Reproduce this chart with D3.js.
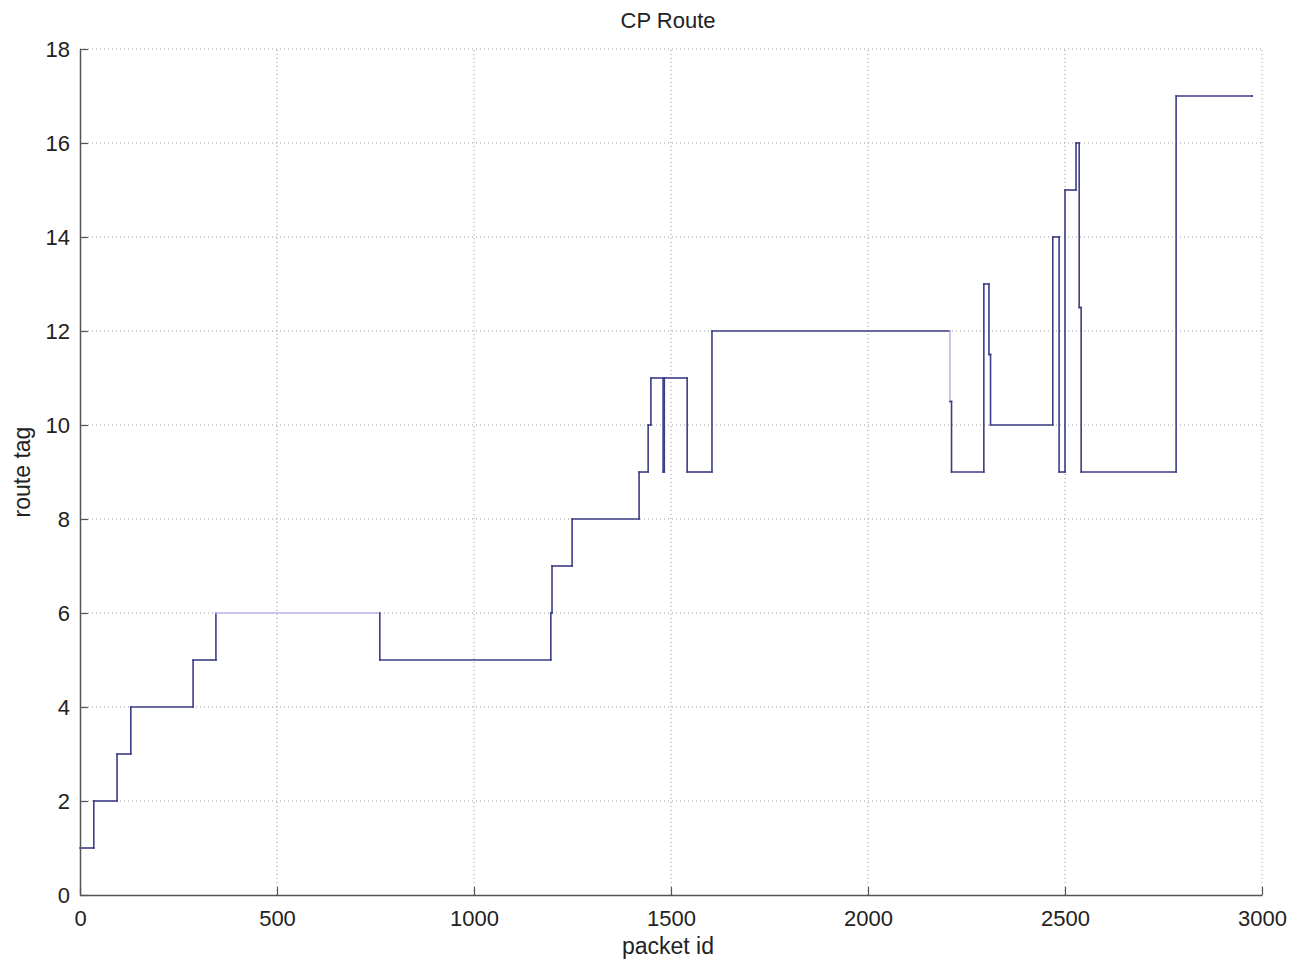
<!DOCTYPE html>
<html><head><meta charset="utf-8">
<script src="https://cdn.jsdelivr.net/npm/d3@7"></script>
<style>body{margin:0;background:#fff}svg{display:block}</style>
</head><body>
<script>
// Data: step points (packet id where the route tag changes, new route tag)
const packetIds = [0, 35, 94, 129, 287, 345, 761, 1195, 1198, 1249, 1419, 1442, 1449, 1480, 1483, 1541, 1604, 2208, 2212, 2294, 2307, 2311, 2469, 2485, 2500, 2528, 2536, 2541, 2782, 2975];
const routeTags = [1, 2, 3, 4, 5, 6, 5, 6, 7, 8, 9, 10, 11, 9, 11, 9, 12, 10.5, 9, 13, 11.5, 10, 14, 9, 15, 16, 12.5, 9, 17, 17];
const xTicks = [0, 500, 1000, 1500, 2000, 2500, 3000];
const yTicks = [0, 2, 4, 6, 8, 10, 12, 14, 16, 18];
const titleText = "CP Route", xLabel = "packet id", yLabel = "route tag";

const W = 1299, H = 962;
const m = {l: 80, r: 37, t: 49, b: 67};
const svg = d3.select("body").append("svg").attr("width", W).attr("height", H);
const x = d3.scaleLinear().domain([0, 3000]).range([m.l, W - m.r]);
const y = d3.scaleLinear().domain([0, 18]).range([H - m.b, m.t]);
const font = "Liberation Sans, Arial, sans-serif";

// grid
const g = svg.append("g");
g.selectAll(".gx").data(xTicks.slice(1)).join("line")
  .attr("x1", d => x(d)).attr("x2", d => x(d)).attr("y1", y(0)).attr("y2", y(18))
  .attr("stroke", "#9a9a9a").attr("stroke-width", 1).attr("stroke-dasharray", "1,3");
g.selectAll(".gy").data(yTicks.slice(1)).join("line")
  .attr("y1", d => y(d)).attr("y2", d => y(d)).attr("x1", x(0)).attr("x2", x(3000))
  .attr("stroke", "#9a9a9a").attr("stroke-width", 1).attr("stroke-dasharray", "1,3");

// line segments (step-after)
const pts = packetIds.map((p, i) => [p, routeTags[i]]);
const segs = [];
for (let i = 0; i < pts.length - 1; i++) {
  segs.push({x1: pts[i][0], y1: pts[i][1], x2: pts[i+1][0], y2: pts[i][1], i, k: "h"});
  segs.push({x1: pts[i+1][0], y1: pts[i][1], x2: pts[i+1][0], y2: pts[i+1][1], i, k: "v"});
}
const faint = s => (s.k === "h" && s.i === 5) || (s.k === "v" && s.i === 16);
svg.append("g").selectAll("line").data(segs).join("line")
  .attr("x1", d => x(d.x1)).attr("x2", d => x(d.x2))
  .attr("y1", d => y(d.y1)).attr("y2", d => y(d.y2))
  .attr("stroke", d => faint(d) ? "#b9b9ee" : "#3b3d86")
  .attr("stroke-width", 1.6).attr("stroke-linecap", "square");

// axes
const xAxis = d3.axisBottom(x).tickValues(xTicks).tickSizeInner(-8).tickSizeOuter(0).tickPadding(14).tickFormat(d3.format("d"));
const yAxis = d3.axisLeft(y).tickValues(yTicks).tickSizeInner(-8).tickSizeOuter(0).tickPadding(10);
const ax = svg.append("g").attr("transform", `translate(0,${y(0)})`).call(xAxis);
const ay = svg.append("g").attr("transform", `translate(${x(0)},0)`).call(yAxis);
[ax, ay].forEach(a => {
  a.select(".domain").attr("stroke", "#555").attr("stroke-width", 1.5);
  a.selectAll(".tick line").attr("stroke", "#555").attr("stroke-width", 1.2);
  a.selectAll("text").attr("font-family", font).attr("font-size", 22).attr("fill", "#222");
});
ax.selectAll("text").attr("dy", "0.75em");

// labels
svg.append("text").attr("x", 668).attr("y", 28).attr("text-anchor", "middle")
  .attr("font-family", font).attr("font-size", 22).attr("fill", "#222").text(titleText);
svg.append("text").attr("x", 668).attr("y", 954).attr("text-anchor", "middle")
  .attr("font-family", font).attr("font-size", 23).attr("fill", "#222").text(xLabel);
svg.append("text").attr("transform", "translate(30,472) rotate(-90)").attr("text-anchor", "middle")
  .attr("font-family", font).attr("font-size", 23).attr("fill", "#222").text(yLabel);
</script>
</body></html>
